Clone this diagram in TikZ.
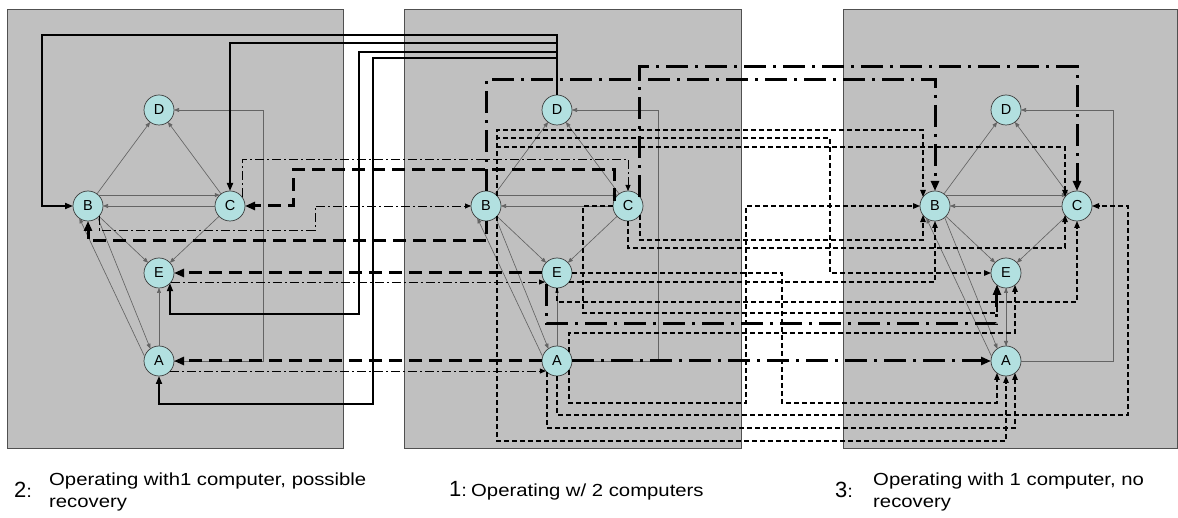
\documentclass[tikz,border=0pt]{standalone}
\usepackage{fontspec}
\setmainfont{Liberation Sans}
\newfontfamily\lblfont[FakeStretch=1.16]{Liberation Sans}
\usetikzlibrary{arrows.meta}
\definecolor{panelgray}{RGB}{192,192,192}
\definecolor{panelborder}{RGB}{80,80,80}
\definecolor{nodefill}{RGB}{178,224,224}
\definecolor{nodeborder}{RGB}{60,60,60}
\definecolor{edgegray}{RGB}{100,100,100}
\begin{document}
\begin{tikzpicture}[x=1pt,y=-1pt,
  panel/.style={fill=panelgray,draw=panelborder,line width=0.8},
  st/.style={circle,fill=nodefill,draw=nodeborder,line width=0.7,minimum size=30,inner sep=0,outer sep=0,font=\fontsize{14.5}{14.5}\selectfont},
  gedge/.style={draw=edgegray,line width=0.65,-{Triangle[length=5,width=4]}},
  solidT/.style={line width=1.8,-{Triangle[length=8,width=6]}},
  thdash/.style={line width=3,dash pattern=on 13pt off 7pt,-{Triangle[length=10,width=8]}},
  thdd/.style={line width=3,dash pattern=on 22pt off 7pt on 3pt off 7pt,-{Triangle[length=10,width=8]}},
  tdash/.style={line width=1.2,dash pattern=on 5pt off 3pt,-{Triangle[length=7,width=5.5]}},
  tdd/.style={line width=0.9,dash pattern=on 9pt off 3pt on 2pt off 3pt,-{Triangle[length=6,width=5]}},
  digit/.style={inner sep=0,font=\fontsize{22}{22}\selectfont},
  lbl/.style={inner sep=0,align=left,font=\lblfont\fontsize{17.5}{22}\selectfont}]
\useasboundingbox (0,0) rectangle (1178,518);
% panels
\draw[panel] (7,9) rectangle (343,448);
\draw[panel] (404,9) rectangle (741,448);
\draw[panel] (843,9) rectangle (1177,448);
% nodes
\foreach \p/\x in {l/159,m/557,r/1006}{
  \node[st] (\p D) at (\x,110) {D};
  \node[st] (\p B) at (\x-71,206) {B};
  \node[st] (\p C) at (\x+71,206) {C};
  \node[st] (\p E) at (\x,273) {E};
  \node[st] (\p A) at (\x,361) {A};
}
% internal edges
\foreach \p/\ax in {l/263,m/658,r/1113}{
  \draw[gedge] (\p B) -- (\p D);
  \draw[gedge] (\p C) -- (\p D);
  \draw[gedge] (\p B.47) -- (\p C.133);
  \draw[gedge] (\p C.west) -- (\p B.east);
  \draw[gedge] (\p B) -- (\p E);
  \draw[gedge] (\p C) -- (\p E);
  \draw[gedge] (\p A) -- (\p E);
  \draw[gedge] (\p B.-50) -- (\p A.125);
  \draw[gedge] (\p A.163) -- (\p B.-125);
  \draw[gedge] (\p A.east) -- (\ax,361) |- (\p D.east);
}
\draw[gedge] (rE) -- (rA);
% solid thick: middle D -> left
\draw[solidT] (mD.north) -- (mD.north |- 0,35) -| (lB.west -| 42,0) -- (lB.west);
\draw[solidT] (mD.north) -- (mD.north |- 0,43) -| (lC.north);
\draw[solidT] (mD.north) -- (mD.north |- 0,52) -| (359,314) -| (lE.-43);
\draw[solidT] (mD.north) -- (mD.north |- 0,58) -| (373,404) -| (lA.south);
% thick dashed: middle -> left
\draw[thdash] (mC.159) -- (mC.159 |- 0,170) -| (293,206) -- (lC.east);
\draw[thdash] (mB.south) -- (mB.south |- 0,241) -| (lB.south);
\draw[thdash] (mE.west) -- (lE.east);
\draw[thdash] (mA.west) -- (lA.east);
% thin dash-dot: left -> middle
\draw[tdd] (lC.37) -- (lC.37 |- 0,159) -| (mC.north);
\draw[tdd] (lB.-43) -- (lB.-43 |- 0,230) -| (315,206) -- (mB.west);
\draw[tdd] (lE.-37) -- (mE.217);
\draw[tdd] (lA.-42) -- (mA.222);
% thick dash-dot: middle -> right
\draw[thdd] (mB.north) -- (mB.north |- 0,80) -| (rB.north);
\draw[thdd] (mC.37) -- (mC.37 |- 0,67) -| (rC.north);
\draw[thdd] (mE.-132) -- (mE.-132 |- 0,324) -| (rE.-127);
\draw[thdd] (mA.east) -- (rA.west);
% thin dashed: middle -> right
\draw[tdash] (mB.43) -- (mB.43 |- 0,130) -| (rB.143);
\draw[tdash] (mB.43) -- (mB.43 |- 0,138) -| (rE.west -| 830,0) -- (rE.west);
\draw[tdash] (mB.43) -- (mB.43 |- 0,147) -| (rC.143);
\draw[tdash] (mB.-43) -- (mB.-43 |- 0,441) -| (rA.south);
\draw[tdash] (mC.south) -- (mC.south |- 0,248) -| (rC.-143);
\draw[tdash] (mC.-37) -- (mC.-37 |- 0,240) -| (rB.-143);
\draw[tdash] (mE.east) -- (mE.east -| 782,0) |- (rA.-127 |- 0,403) -- (rA.-127);
\draw[tdash] (mE.-37) -| (rB.south);
\draw[tdash] (mE.south) -- (mE.south |- 0,302) -| (rC.south);
\draw[tdash] (mC.west) -- (mC.west -| 583,0) |- (rE.-127 |- 0,313) -- (rE.-127);
\draw[tdash] (mA.37) -- (mA.37 |- 0,333) -| (rE.-53);
\draw[tdash] (mA.-37) -- (mA.-37 |- 0,403) -| (rB.west -| 746,0) -- (rB.west);
\draw[tdash] (mA.south) -- (mA.south |- 0,415) -| (rC.east -| 1128,0) -- (rC.east);
\draw[tdash] (mA.-132) -- (mA.-132 |- 0,428) -| (rA.-53);
% labels
\node[digit,anchor=base west] (n2) at (14,497) {2\lblfont\fontsize{17.5}{22}\selectfont:};
\node[lbl,anchor=north west] (t2) at (49,473) {Operating with1 computer, possible\\recovery};
\node[digit,anchor=base west] (n1) at (449,496) {1\lblfont\fontsize{17.5}{22}\selectfont:};
\node[lbl,anchor=base west] (t1) at (471,496) {Operating w/ 2 computers};
\node[digit,anchor=base west] (n3) at (835,497) {3\lblfont\fontsize{17.5}{22}\selectfont:};
\node[lbl,anchor=north west] (t3) at (873,473) {Operating with 1 computer, no\\recovery};
\end{tikzpicture}
\end{document}
